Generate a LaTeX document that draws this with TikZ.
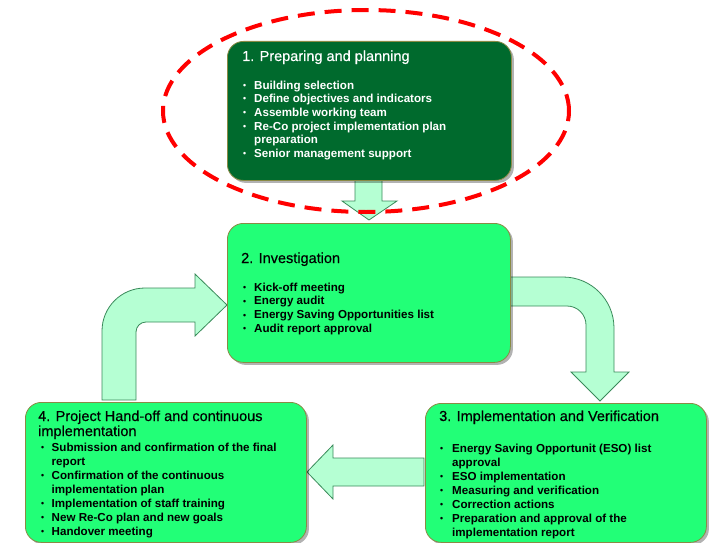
\documentclass[tikz,border=0pt]{standalone}
\usepackage{fontspec}
\usepackage{graphicx}
\setmainfont{Liberation Sans}
\usetikzlibrary{shadows}
\definecolor{dkgreen}{HTML}{006A2D}
\definecolor{ltgreen}{HTML}{22FF77}
\definecolor{boxline}{HTML}{8A8A45}
\definecolor{arrfill}{HTML}{B5FFD3}
\definecolor{arrline}{HTML}{3A8A5A}
\definecolor{ellred}{HTML}{FF0000}
\newlength\bhang
\newcommand\itm[1]{\par\noindent\hangindent=\bhang\hangafter=1\makebox[\bhang][l]{\raisebox{0.12ex}{\scalebox{0.75}{•}}}#1}
\begin{document}
\begin{tikzpicture}[x=1pt,y=-1pt,
  stagebox/.style={draw=boxline, line width=0.8pt, rounded corners=16pt, anchor=north west, inner sep=0pt,
     drop shadow={shadow xshift=2.5pt, shadow yshift=-2.5pt, opacity=0.3, fill=black}},
  titletxt/.style={anchor=base west, inner sep=0pt, font=\addfontfeatures{FakeBold=0.4}\fontsize{14.5}{15}\selectfont},
  listtxt/.style={anchor=base west, inner sep=0pt, font=\bfseries\fontsize{11.6}{13.9}\selectfont},
  blockarrow/.style={draw=arrline, fill=arrfill, line width=0.8pt, line join=miter},
  focus/.style={draw=ellred, line width=4pt, dash pattern=on 17pt off 10pt}]
\useasboundingbox (0,0) rectangle (712,543);

% block arrows
\draw[blockarrow] (355,180) -- (382,180) -- (382,201) -- (397,201) -- (369,220) -- (342,201) -- (355,201) -- cycle;
\draw[blockarrow] (102,400) -- (102,331) .. controls (102,307.2) and (121.2,288) .. (145,288) -- (195,288) -- (195,274)
   -- (227,305) -- (195,336) -- (195,322) -- (146,322) .. controls (140.5,322) and (136,326.5) .. (136,332) -- (136,400) -- cycle;
\draw[blockarrow] (508,277) -- (563,277) .. controls (591.2,277) and (614,299.8) .. (614,328) -- (614,372) -- (629,372)
   -- (600,401) -- (571,372) -- (586,372) -- (586,325) .. controls (586,314.5) and (577.5,306) .. (567,306) -- (508,306) -- cycle;
\draw[blockarrow] (424,458) -- (333,458) -- (333,445) -- (307,472) -- (333,499) -- (333,486) -- (424,486) -- cycle;

% boxes
\node[stagebox, fill=dkgreen, minimum width=284pt, minimum height=139pt] (b1) at (227,41) {};
\node[stagebox, fill=ltgreen, minimum width=283pt, minimum height=139pt] (b2) at (227,223) {};
\node[stagebox, fill=ltgreen, minimum width=281pt, minimum height=139pt] (b3) at (425,403) {};
\node[stagebox, fill=ltgreen, minimum width=281pt, minimum height=140pt] (b4) at (25,402) {};

% box 1 text
\node[titletxt, text=white] (t1) at (242,61) {1. Preparing and planning};
\node[listtxt, text=white] (l1) at (243,89) {\parbox[t]{265pt}{\fontsize{11.6}{13.7}\selectfont\setlength\bhang{11pt}%
  \itm{Building selection}
  \itm{Define objectives and indicators}
  \itm{Assemble working team}
  \itm{Re-Co project implementation plan\newline preparation}
  \itm{Senior management support}}};

% box 2 text
\node[titletxt] (t2) at (241,263) {2. Investigation};
\node[listtxt] (l2) at (243,291) {\parbox[t]{265pt}{\setlength\bhang{11pt}%
  \itm{Kick-off meeting}
  \itm{Energy audit}
  \itm{Energy Saving Opportunities list}
  \itm{Audit report approval}}};

% box 3 text
\node[titletxt] (t3) at (439,421) {3. Implementation and Verification};
\node[listtxt] (l3) at (440,452) {\parbox[t]{262pt}{\fontsize{11.6}{14}\selectfont\setlength\bhang{12pt}%
  \itm{Energy Saving Opportunit (ESO) list\newline approval}
  \itm{ESO implementation}
  \itm{Measuring and verification}
  \itm{Correction actions}
  \itm{Preparation and approval of the\newline implementation report}}};

% box 4 text
\node[titletxt] (t4) at (38,421) {\parbox[t]{265pt}{\addfontfeatures{FakeBold=0.4}\fontsize{14.5}{15}\selectfont 4. Project Hand-off and continuous\\implementation}};
\node[listtxt] (l4) at (41,451) {\parbox[t]{262pt}{\fontsize{11.6}{14}\selectfont\setlength\bhang{10.5pt}%
  \itm{Submission and confirmation of the final\newline report}
  \itm{Confirmation of the continuous\newline implementation plan}
  \itm{Implementation of staff training}
  \itm{New Re-Co plan and new goals}
  \itm{Handover meeting}}};

% highlight ellipse
\draw[focus] (366,111) ellipse [x radius=203pt, y radius=101pt];
\end{tikzpicture}
\end{document}
